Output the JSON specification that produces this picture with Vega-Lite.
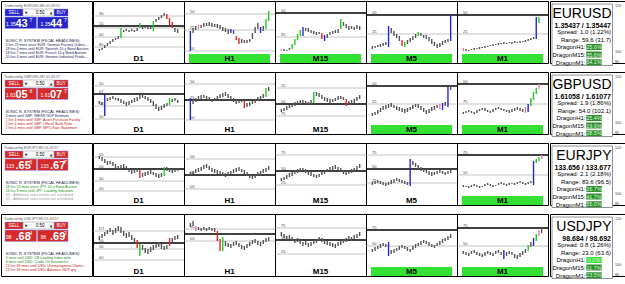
{
"$schema":"https://vega.github.io/schema/vega-lite/v6.json",
"padding":0,
"background":"white",
"spacing":-4.5,
"resolve":{"scale":{"fill":"independent","color":"independent","stroke":"independent","strokeWidth":"independent"}},
"config":{"view":{"stroke":"#000000","strokeWidth":1},"font":"Liberation Sans",
"axis":{"grid":false,"domain":false,"title":null,"labelFontSize":4,"labelColor":"#333333","tickSize":2,"tickColor":"#000000","tickWidth":0.6,"labelPadding":0.5,"labelAlign":"left","labelBaseline":"top","labelFlush":false,"labelOverlap":false,"labelOffset":1}},
"datasets":{"d":[
{"k":"L","s":"EURUSD","ttl":"Tradeconfig EURUSD,M5 01:49:57","dir":"up","bs":"1.35","bb":"43","bp":"7","as":"1.35","ab":"44","ap":"7","h1":"3 hrs 29 mins since EUR: German Factory Orders m/m","h2":"18 hrs 4 mins until EUR: Spanish 10-y Bond Auction","h3":"18 hrs 7 mins until EUR: French 10-y Bond Auction","h4":"20 hrs 4 mins until EUR: German Industrial Production m/m","c1":"M","c2":"M","c3":"M","c4":"M"},
{"k":"L","s":"GBPUSD","ttl":"Tradeconfig GBPUSD,M5 01:49:57","dir":"dn","bs":"1.61","bb":"05","bp":"8","as":"1.61","ab":"07","ap":"7","h1":"3 mins until GBP: NIESR GDP Estimate","h2":"1 hrs 4 mins until GBP: Asset Purchase Facility","h3":"1 hrs 4 mins until GBP: Official Bank Rate","h4":"1 hrs 4 mins until GBP: MPC Rate Statement","c1":"M","c2":"H","c3":"H","c4":"H"},
{"k":"L","s":"EURJPY","ttl":"Tradeconfig EURJPY,M5 01:49:57","dir":"dn","bs":"133","bb":".65","bp":"6","as":"133","ab":".67","ap":"7","h1":"18 hrs 12 mins since JPY: 10-y Bond Auction","h2":"14 hrs 3 mins until JPY: Leading Indicators","h3":"(0) - Additional news events not scheduled","h4":"(0) - Additional news events not scheduled","c1":"L","c2":"L","c3":"N","c4":"N"},
{"k":"L","s":"USDJPY","ttl":"Tradeconfig USDJPY,M5 01:49:57","dir":"dn","bs":"98","bb":".68","bp":"4","as":"98","ab":".69","ap":"2","h1":"3 mins until USD: CB Leading Index m/m","h2":"4 mins until USD: Crude Oil Inventories","h3":"23 hrs 39 mins until USD: Unemployment Claims","h4":"23 hrs 39 mins until USD: Advance GDP q/q","c1":"L","c2":"L","c3":"H","c4":"H"},
{"k":"I","s":"EURUSD","nm":"EURUSD","ba":"1.35437 / 1.35447","sp":"Spread: 1.0 (1.22%)","rg":"Range: 59.6 (31.7)","d1":"25.6%","d2":"35.6%","d3":"64.1%","e1":"n","e2":"n","e3":"n"},
{"k":"I","s":"GBPUSD","nm":"GBPUSD","ba":"1.61058 / 1.61077","sp":"Spread: 1.9 (1.86%)","rg":"Range: 54.0 (102.1)","d1":"25.4%","d2":"19.9%","d3":"28.5%","e1":"n","e2":"n","e3":"n"},
{"k":"I","s":"EURJPY","nm":"EURJPY","ba":"133.656 / 133.677","sp":"Spread: 2.1 (2.18%)","rg":"Range: 83.6 (96.5)","d1":"26.7%","d2":"41.7%","d3":"55.0%","e1":"n","e2":"n","e3":"n"},
{"k":"I","s":"USDJPY","nm":"USDJPY","ba":"98.684 / 98.692","sp":"Spread: 0.8 (1.26%)","rg":"Range: 23.0 (63.6)","d1":"0.0%","d2":"11.7%","d3":"23.5%","e1":"z","e2":"n","e3":"n"},
{"k":"g","s":"EURUSD","t":"D1","on":false},{"k":"g","s":"EURUSD","t":"H1","on":true},{"k":"g","s":"EURUSD","t":"M15","on":true},{"k":"g","s":"EURUSD","t":"M5","on":true},{"k":"g","s":"EURUSD","t":"M1","on":true},
{"k":"g","s":"GBPUSD","t":"D1","on":false},{"k":"g","s":"GBPUSD","t":"H1","on":false},{"k":"g","s":"GBPUSD","t":"M15","on":false},{"k":"g","s":"GBPUSD","t":"M5","on":true},{"k":"g","s":"GBPUSD","t":"M1","on":true},
{"k":"g","s":"EURJPY","t":"D1","on":false},{"k":"g","s":"EURJPY","t":"H1","on":false},{"k":"g","s":"EURJPY","t":"M15","on":false},{"k":"g","s":"EURJPY","t":"M5","on":false},{"k":"g","s":"EURJPY","t":"M1","on":true},
{"k":"g","s":"USDJPY","t":"D1","on":false},{"k":"g","s":"USDJPY","t":"H1","on":false},{"k":"g","s":"USDJPY","t":"M15","on":false},{"k":"g","s":"USDJPY","t":"M5","on":true},{"k":"g","s":"USDJPY","t":"M1","on":true},
{"k":"ln","s":"EURUSD","t":"D1","v":47,"lt":"g","lab":"30"},{"k":"ln","s":"EURUSD","t":"D1","v":37,"lt":"m","lab":"15"},{"k":"ln","s":"EURUSD","t":"D1","v":35,"lt":"g","lab":""},{"k":"ln","s":"EURUSD","t":"D1","v":26,"lt":"g","lab":"00"},{"k":"ln","s":"EURUSD","t":"D1","v":16,"lt":"g","lab":"85"},
{"k":"ln","s":"EURUSD","t":"H1","v":49,"lt":"g","lab":"50"},{"k":"ln","s":"EURUSD","t":"H1","v":33,"lt":"g","lab":"25"},{"k":"ln","s":"EURUSD","t":"H1","v":12,"lt":"g","lab":"00"},
{"k":"ln","s":"EURUSD","t":"M15","v":50,"lt":"m","lab":"50"},{"k":"ln","s":"EURUSD","t":"M15","v":26,"lt":"g","lab":"35"},
{"k":"ln","s":"EURUSD","t":"M5","v":48,"lt":"m","lab":"50"},{"k":"ln","s":"EURUSD","t":"M5","v":29,"lt":"g","lab":"25"},
{"k":"ln","s":"EURUSD","t":"M1","v":48,"lt":"m","lab":"50"},{"k":"ln","s":"EURUSD","t":"M1","v":29,"lt":"g","lab":"25"},
{"k":"ln","s":"GBPUSD","t":"D1","v":48,"lt":"g","lab":"50"},{"k":"ln","s":"GBPUSD","t":"D1","v":40,"lt":"m","lab":"07"},{"k":"ln","s":"GBPUSD","t":"D1","v":28,"lt":"g","lab":"00"},{"k":"ln","s":"GBPUSD","t":"D1","v":15,"lt":"g","lab":"50"},
{"k":"ln","s":"GBPUSD","t":"H1","v":50,"lt":"g","lab":"50"},{"k":"ln","s":"GBPUSD","t":"H1","v":34,"lt":"m","lab":"25"},{"k":"ln","s":"GBPUSD","t":"H1","v":14,"lt":"g","lab":"00"},
{"k":"ln","s":"GBPUSD","t":"M15","v":46,"lt":"g","lab":"25"},{"k":"ln","s":"GBPUSD","t":"M15","v":30,"lt":"m","lab":"00"},{"k":"ln","s":"GBPUSD","t":"M15","v":18,"lt":"g","lab":"75"},
{"k":"ln","s":"GBPUSD","t":"M5","v":48,"lt":"m","lab":"50"},{"k":"ln","s":"GBPUSD","t":"M5","v":30,"lt":"g","lab":"25"},
{"k":"ln","s":"GBPUSD","t":"M1","v":50,"lt":"m","lab":"00"},{"k":"ln","s":"GBPUSD","t":"M1","v":30,"lt":"g","lab":"75"},
{"k":"ln","s":"EURJPY","t":"D1","v":48,"lt":"g","lab":"50"},{"k":"ln","s":"EURJPY","t":"D1","v":36,"lt":"m","lab":"00"},{"k":"ln","s":"EURJPY","t":"D1","v":24,"lt":"g","lab":"50"},{"k":"ln","s":"EURJPY","t":"D1","v":14,"lt":"g","lab":"00"},
{"k":"ln","s":"EURJPY","t":"H1","v":46,"lt":"g","lab":"00"},{"k":"ln","s":"EURJPY","t":"H1","v":30,"lt":"m","lab":"50"},{"k":"ln","s":"EURJPY","t":"H1","v":16,"lt":"g","lab":"00"},
{"k":"ln","s":"EURJPY","t":"M15","v":50,"lt":"g","lab":"75"},{"k":"ln","s":"EURJPY","t":"M15","v":34,"lt":"m","lab":"50"},{"k":"ln","s":"EURJPY","t":"M15","v":20,"lt":"g","lab":"25"},
{"k":"ln","s":"EURJPY","t":"M5","v":50,"lt":"g","lab":"75"},{"k":"ln","s":"EURJPY","t":"M5","v":36,"lt":"m","lab":"50"},{"k":"ln","s":"EURJPY","t":"M5","v":22,"lt":"g","lab":"25"},
{"k":"ln","s":"EURJPY","t":"M1","v":50,"lt":"m","lab":"75"},{"k":"ln","s":"EURJPY","t":"M1","v":30,"lt":"g","lab":"50"},
{"k":"ln","s":"USDJPY","t":"D1","v":45,"lt":"g","lab":"DT"},{"k":"ln","s":"USDJPY","t":"D1","v":33,"lt":"m","lab":"00"},{"k":"ln","s":"USDJPY","t":"D1","v":27,"lt":"g","lab":"50"},{"k":"ln","s":"USDJPY","t":"D1","v":16,"lt":"g","lab":"00"},
{"k":"ln","s":"USDJPY","t":"H1","v":47,"lt":"g","lab":"50"},{"k":"ln","s":"USDJPY","t":"H1","v":42,"lt":"m","lab":""},{"k":"ln","s":"USDJPY","t":"H1","v":35,"lt":"g","lab":"00"},
{"k":"ln","s":"USDJPY","t":"M15","v":48,"lt":"g","lab":"75"},{"k":"ln","s":"USDJPY","t":"M15","v":36,"lt":"m","lab":"50"},{"k":"ln","s":"USDJPY","t":"M15","v":22,"lt":"g","lab":"25"},
{"k":"ln","s":"USDJPY","t":"M5","v":46,"lt":"m","lab":"75"},{"k":"ln","s":"USDJPY","t":"M5","v":30,"lt":"g","lab":"50"},
{"k":"ln","s":"USDJPY","t":"M1","v":48,"lt":"m","lab":"75"},{"k":"ln","s":"USDJPY","t":"M1","v":30,"lt":"g","lab":"50"},
{"k":"c","s":"EURUSD","t":"D1","i":0,"o":12,"c":14,"q":"n"},{"k":"c","s":"EURUSD","t":"D1","i":1,"o":13,"c":15,"q":"n"},{"k":"c","s":"EURUSD","t":"D1","i":2,"o":15,"c":18,"q":"n"},{"k":"c","s":"EURUSD","t":"D1","i":3,"o":17,"c":20,"q":"n"},{"k":"c","s":"EURUSD","t":"D1","i":4,"o":19,"c":22,"q":"n"},{"k":"c","s":"EURUSD","t":"D1","i":5,"o":21,"c":24,"q":"n"},{"k":"c","s":"EURUSD","t":"D1","i":6,"o":23,"c":25,"q":"n"},{"k":"c","s":"EURUSD","t":"D1","i":7,"o":24,"c":27,"q":"n"},{"k":"c","s":"EURUSD","t":"D1","i":8,"o":25,"c":35,"q":"g"},{"k":"c","s":"EURUSD","t":"D1","i":9,"o":31,"c":33,"q":"n"},{"k":"c","s":"EURUSD","t":"D1","i":10,"o":32,"c":34,"q":"n"},{"k":"c","s":"EURUSD","t":"D1","i":11,"o":31,"c":33,"q":"n"},{"k":"c","s":"EURUSD","t":"D1","i":12,"o":32,"c":34,"q":"n"},{"k":"c","s":"EURUSD","t":"D1","i":13,"o":31,"c":33,"q":"n"},{"k":"c","s":"EURUSD","t":"D1","i":14,"o":32,"c":35,"q":"n"},{"k":"c","s":"EURUSD","t":"D1","i":15,"o":35,"c":40,"q":"g"},{"k":"c","s":"EURUSD","t":"D1","i":16,"o":34,"c":37,"q":"n"},{"k":"c","s":"EURUSD","t":"D1","i":17,"o":35,"c":38,"q":"n"},{"k":"c","s":"EURUSD","t":"D1","i":18,"o":34,"c":37,"q":"n"},{"k":"c","s":"EURUSD","t":"D1","i":19,"o":34,"c":38,"q":"n"},{"k":"c","s":"EURUSD","t":"D1","i":20,"o":32,"c":42,"q":"g"},{"k":"c","s":"EURUSD","t":"D1","i":21,"o":41,"c":44,"q":"n"},{"k":"c","s":"EURUSD","t":"D1","i":22,"o":43,"c":46,"q":"n"},{"k":"c","s":"EURUSD","t":"D1","i":23,"o":45,"c":48,"q":"n"},{"k":"c","s":"EURUSD","t":"D1","i":24,"o":47,"c":50,"q":"n"},{"k":"c","s":"EURUSD","t":"D1","i":25,"o":49,"c":44,"q":"r"},{"k":"c","s":"EURUSD","t":"D1","i":26,"o":45,"c":38,"q":"r"},{"k":"c","s":"EURUSD","t":"D1","i":27,"o":41,"c":35,"q":"r"},{"k":"c","s":"EURUSD","t":"D1","i":28,"o":31,"c":35,"q":"n"},{"k":"c","s":"EURUSD","t":"D1","i":29,"o":30,"c":34,"q":"n"},
{"k":"c","s":"EURUSD","t":"H1","i":0,"o":12,"c":32,"q":"b"},{"k":"c","s":"EURUSD","t":"H1","i":1,"o":30,"c":35,"q":"n"},{"k":"c","s":"EURUSD","t":"H1","i":2,"o":33,"c":37,"q":"n"},{"k":"c","s":"EURUSD","t":"H1","i":3,"o":34,"c":38,"q":"p"},{"k":"c","s":"EURUSD","t":"H1","i":4,"o":35,"c":38,"q":"n"},{"k":"c","s":"EURUSD","t":"H1","i":5,"o":36,"c":40,"q":"n"},{"k":"c","s":"EURUSD","t":"H1","i":6,"o":37,"c":40,"q":"n"},{"k":"c","s":"EURUSD","t":"H1","i":7,"o":37,"c":41,"q":"n"},{"k":"c","s":"EURUSD","t":"H1","i":8,"o":36,"c":40,"q":"n"},{"k":"c","s":"EURUSD","t":"H1","i":9,"o":36,"c":39,"q":"n"},{"k":"c","s":"EURUSD","t":"H1","i":10,"o":35,"c":39,"q":"n"},{"k":"c","s":"EURUSD","t":"H1","i":11,"o":34,"c":38,"q":"n"},{"k":"c","s":"EURUSD","t":"H1","i":12,"o":32,"c":36,"q":"n"},{"k":"c","s":"EURUSD","t":"H1","i":13,"o":31,"c":35,"q":"n"},{"k":"c","s":"EURUSD","t":"H1","i":14,"o":29,"c":34,"q":"n"},{"k":"c","s":"EURUSD","t":"H1","i":15,"o":30,"c":34,"q":"b"},{"k":"c","s":"EURUSD","t":"H1","i":16,"o":29,"c":33,"q":"n"},{"k":"c","s":"EURUSD","t":"H1","i":17,"o":27,"c":23,"q":"r"},{"k":"c","s":"EURUSD","t":"H1","i":18,"o":25,"c":19,"q":"r"},{"k":"c","s":"EURUSD","t":"H1","i":19,"o":20,"c":24,"q":"n"},{"k":"c","s":"EURUSD","t":"H1","i":20,"o":20,"c":23,"q":"n"},{"k":"c","s":"EURUSD","t":"H1","i":21,"o":20,"c":23,"q":"n"},{"k":"c","s":"EURUSD","t":"H1","i":22,"o":21,"c":24,"q":"n"},{"k":"c","s":"EURUSD","t":"H1","i":23,"o":24,"c":30,"q":"n"},{"k":"c","s":"EURUSD","t":"H1","i":24,"o":30,"c":36,"q":"n"},{"k":"c","s":"EURUSD","t":"H1","i":25,"o":34,"c":40,"q":"n"},{"k":"c","s":"EURUSD","t":"H1","i":26,"o":30,"c":36,"q":"b"},{"k":"c","s":"EURUSD","t":"H1","i":27,"o":32,"c":37,"q":"n"},{"k":"c","s":"EURUSD","t":"H1","i":28,"o":34,"c":44,"q":"g"},{"k":"c","s":"EURUSD","t":"H1","i":29,"o":42,"c":52,"q":"g"},
{"k":"c","s":"EURUSD","t":"M15","i":0,"o":12,"c":14,"q":"p"},{"k":"c","s":"EURUSD","t":"M15","i":1,"o":12,"c":14,"q":"n"},{"k":"c","s":"EURUSD","t":"M15","i":2,"o":12,"c":13,"q":"n"},{"k":"c","s":"EURUSD","t":"M15","i":3,"o":13,"c":15,"q":"n"},{"k":"c","s":"EURUSD","t":"M15","i":4,"o":14,"c":19,"q":"g"},{"k":"c","s":"EURUSD","t":"M15","i":5,"o":18,"c":24,"q":"g"},{"k":"c","s":"EURUSD","t":"M15","i":6,"o":23,"c":29,"q":"g"},{"k":"c","s":"EURUSD","t":"M15","i":7,"o":27,"c":33,"q":"g"},{"k":"c","s":"EURUSD","t":"M15","i":8,"o":27,"c":36,"q":"b"},{"k":"c","s":"EURUSD","t":"M15","i":9,"o":32,"c":35,"q":"n"},{"k":"c","s":"EURUSD","t":"M15","i":10,"o":31,"c":35,"q":"n"},{"k":"c","s":"EURUSD","t":"M15","i":11,"o":30,"c":33,"q":"n"},{"k":"c","s":"EURUSD","t":"M15","i":12,"o":29,"c":32,"q":"n"},{"k":"c","s":"EURUSD","t":"M15","i":13,"o":28,"c":31,"q":"n"},{"k":"c","s":"EURUSD","t":"M15","i":14,"o":29,"c":31,"q":"n"},{"k":"c","s":"EURUSD","t":"M15","i":15,"o":30,"c":24,"q":"r"},{"k":"c","s":"EURUSD","t":"M15","i":16,"o":22,"c":28,"q":"b"},{"k":"c","s":"EURUSD","t":"M15","i":17,"o":25,"c":29,"q":"n"},{"k":"c","s":"EURUSD","t":"M15","i":18,"o":28,"c":31,"q":"n"},{"k":"c","s":"EURUSD","t":"M15","i":19,"o":29,"c":32,"q":"n"},{"k":"c","s":"EURUSD","t":"M15","i":20,"o":30,"c":33,"q":"n"},{"k":"c","s":"EURUSD","t":"M15","i":21,"o":30,"c":34,"q":"n"},{"k":"c","s":"EURUSD","t":"M15","i":22,"o":34,"c":44,"q":"g"},{"k":"c","s":"EURUSD","t":"M15","i":23,"o":37,"c":41,"q":"n"},{"k":"c","s":"EURUSD","t":"M15","i":24,"o":35,"c":39,"q":"n"},{"k":"c","s":"EURUSD","t":"M15","i":25,"o":33,"c":37,"q":"n"},{"k":"c","s":"EURUSD","t":"M15","i":26,"o":34,"c":37,"q":"n"},{"k":"c","s":"EURUSD","t":"M15","i":27,"o":33,"c":36,"q":"n"},{"k":"c","s":"EURUSD","t":"M15","i":28,"o":34,"c":38,"q":"n"},{"k":"c","s":"EURUSD","t":"M15","i":29,"o":33,"c":37,"q":"n"},
{"k":"c","s":"EURUSD","t":"M5","i":0,"o":14,"c":17,"q":"n"},{"k":"c","s":"EURUSD","t":"M5","i":1,"o":15,"c":17,"q":"n"},{"k":"c","s":"EURUSD","t":"M5","i":2,"o":16,"c":18,"q":"n"},{"k":"c","s":"EURUSD","t":"M5","i":3,"o":16,"c":19,"q":"n"},{"k":"c","s":"EURUSD","t":"M5","i":4,"o":17,"c":20,"q":"n"},{"k":"c","s":"EURUSD","t":"M5","i":5,"o":18,"c":21,"q":"n"},{"k":"c","s":"EURUSD","t":"M5","i":6,"o":16,"c":37,"q":"b"},{"k":"c","s":"EURUSD","t":"M5","i":7,"o":30,"c":35,"q":"n"},{"k":"c","s":"EURUSD","t":"M5","i":8,"o":27,"c":32,"q":"n"},{"k":"c","s":"EURUSD","t":"M5","i":9,"o":25,"c":29,"q":"n"},{"k":"c","s":"EURUSD","t":"M5","i":10,"o":22,"c":27,"q":"n"},{"k":"c","s":"EURUSD","t":"M5","i":11,"o":23,"c":17,"q":"r"},{"k":"c","s":"EURUSD","t":"M5","i":12,"o":16,"c":21,"q":"g"},{"k":"c","s":"EURUSD","t":"M5","i":13,"o":19,"c":23,"q":"n"},{"k":"c","s":"EURUSD","t":"M5","i":14,"o":21,"c":25,"q":"n"},{"k":"c","s":"EURUSD","t":"M5","i":15,"o":23,"c":27,"q":"n"},{"k":"c","s":"EURUSD","t":"M5","i":16,"o":25,"c":29,"q":"n"},{"k":"c","s":"EURUSD","t":"M5","i":17,"o":27,"c":31,"q":"g"},{"k":"c","s":"EURUSD","t":"M5","i":18,"o":27,"c":30,"q":"n"},{"k":"c","s":"EURUSD","t":"M5","i":19,"o":25,"c":28,"q":"n"},{"k":"c","s":"EURUSD","t":"M5","i":20,"o":24,"c":28,"q":"n"},{"k":"c","s":"EURUSD","t":"M5","i":21,"o":22,"c":26,"q":"n"},{"k":"c","s":"EURUSD","t":"M5","i":22,"o":19,"c":24,"q":"n"},{"k":"c","s":"EURUSD","t":"M5","i":23,"o":17,"c":21,"q":"n"},{"k":"c","s":"EURUSD","t":"M5","i":24,"o":15,"c":19,"q":"n"},{"k":"c","s":"EURUSD","t":"M5","i":25,"o":16,"c":20,"q":"n"},{"k":"c","s":"EURUSD","t":"M5","i":26,"o":18,"c":22,"q":"n"},{"k":"c","s":"EURUSD","t":"M5","i":27,"o":20,"c":23,"q":"n"},{"k":"c","s":"EURUSD","t":"M5","i":28,"o":21,"c":24,"q":"n"},{"k":"c","s":"EURUSD","t":"M5","i":29,"o":22,"c":49,"q":"b"},
{"k":"c","s":"EURUSD","t":"M1","i":0,"o":12,"c":15,"q":"p"},{"k":"c","s":"EURUSD","t":"M1","i":1,"o":12,"c":14,"q":"n"},{"k":"c","s":"EURUSD","t":"M1","i":2,"o":12,"c":13,"q":"n"},{"k":"c","s":"EURUSD","t":"M1","i":3,"o":13,"c":14,"q":"n"},{"k":"c","s":"EURUSD","t":"M1","i":4,"o":13,"c":15,"q":"n"},{"k":"c","s":"EURUSD","t":"M1","i":5,"o":14,"c":15,"q":"n"},{"k":"c","s":"EURUSD","t":"M1","i":6,"o":14,"c":16,"q":"n"},{"k":"c","s":"EURUSD","t":"M1","i":7,"o":15,"c":16,"q":"n"},{"k":"c","s":"EURUSD","t":"M1","i":8,"o":15,"c":17,"q":"n"},{"k":"c","s":"EURUSD","t":"M1","i":9,"o":16,"c":17,"q":"n"},{"k":"c","s":"EURUSD","t":"M1","i":10,"o":17,"c":18,"q":"n"},{"k":"c","s":"EURUSD","t":"M1","i":11,"o":17,"c":19,"q":"n"},{"k":"c","s":"EURUSD","t":"M1","i":12,"o":18,"c":19,"q":"n"},{"k":"c","s":"EURUSD","t":"M1","i":13,"o":18,"c":20,"q":"n"},{"k":"c","s":"EURUSD","t":"M1","i":14,"o":19,"c":20,"q":"n"},{"k":"c","s":"EURUSD","t":"M1","i":15,"o":19,"c":21,"q":"n"},{"k":"c","s":"EURUSD","t":"M1","i":16,"o":19,"c":20,"q":"n"},{"k":"c","s":"EURUSD","t":"M1","i":17,"o":20,"c":21,"q":"n"},{"k":"c","s":"EURUSD","t":"M1","i":18,"o":19,"c":21,"q":"n"},{"k":"c","s":"EURUSD","t":"M1","i":19,"o":20,"c":22,"q":"n"},{"k":"c","s":"EURUSD","t":"M1","i":20,"o":20,"c":21,"q":"n"},{"k":"c","s":"EURUSD","t":"M1","i":21,"o":20,"c":22,"q":"n"},{"k":"c","s":"EURUSD","t":"M1","i":22,"o":21,"c":22,"q":"n"},{"k":"c","s":"EURUSD","t":"M1","i":23,"o":21,"c":23,"q":"n"},{"k":"c","s":"EURUSD","t":"M1","i":24,"o":22,"c":24,"q":"n"},{"k":"c","s":"EURUSD","t":"M1","i":25,"o":23,"c":25,"q":"n"},{"k":"c","s":"EURUSD","t":"M1","i":26,"o":24,"c":26,"q":"n"},{"k":"c","s":"EURUSD","t":"M1","i":27,"o":24,"c":46,"q":"b"},{"k":"c","s":"EURUSD","t":"M1","i":28,"o":40,"c":46,"q":"g"},
{"k":"c","s":"GBPUSD","t":"D1","i":0,"o":30,"c":33,"q":"n"},{"k":"c","s":"GBPUSD","t":"D1","i":1,"o":29,"c":32,"q":"n"},{"k":"c","s":"GBPUSD","t":"D1","i":2,"o":18,"c":40,"q":"b"},{"k":"c","s":"GBPUSD","t":"D1","i":3,"o":33,"c":36,"q":"n"},{"k":"c","s":"GBPUSD","t":"D1","i":4,"o":34,"c":37,"q":"n"},{"k":"c","s":"GBPUSD","t":"D1","i":5,"o":35,"c":38,"q":"n"},{"k":"c","s":"GBPUSD","t":"D1","i":6,"o":34,"c":36,"q":"n"},{"k":"c","s":"GBPUSD","t":"D1","i":7,"o":33,"c":36,"q":"n"},{"k":"c","s":"GBPUSD","t":"D1","i":8,"o":31,"c":35,"q":"n"},{"k":"c","s":"GBPUSD","t":"D1","i":9,"o":30,"c":33,"q":"n"},{"k":"c","s":"GBPUSD","t":"D1","i":10,"o":28,"c":32,"q":"n"},{"k":"c","s":"GBPUSD","t":"D1","i":11,"o":29,"c":33,"q":"n"},{"k":"c","s":"GBPUSD","t":"D1","i":12,"o":31,"c":34,"q":"n"},{"k":"c","s":"GBPUSD","t":"D1","i":13,"o":32,"c":36,"q":"n"},{"k":"c","s":"GBPUSD","t":"D1","i":14,"o":33,"c":37,"q":"n"},{"k":"c","s":"GBPUSD","t":"D1","i":15,"o":35,"c":39,"q":"n"},{"k":"c","s":"GBPUSD","t":"D1","i":16,"o":36,"c":40,"q":"n"},{"k":"c","s":"GBPUSD","t":"D1","i":17,"o":35,"c":38,"q":"n"},{"k":"c","s":"GBPUSD","t":"D1","i":18,"o":33,"c":37,"q":"n"},{"k":"c","s":"GBPUSD","t":"D1","i":19,"o":31,"c":35,"q":"n"},{"k":"c","s":"GBPUSD","t":"D1","i":20,"o":28,"c":33,"q":"n"},{"k":"c","s":"GBPUSD","t":"D1","i":21,"o":25,"c":30,"q":"n"},{"k":"c","s":"GBPUSD","t":"D1","i":22,"o":23,"c":27,"q":"n"},{"k":"c","s":"GBPUSD","t":"D1","i":23,"o":24,"c":28,"q":"n"},{"k":"c","s":"GBPUSD","t":"D1","i":24,"o":26,"c":30,"q":"n"},{"k":"c","s":"GBPUSD","t":"D1","i":25,"o":28,"c":31,"q":"n"},{"k":"c","s":"GBPUSD","t":"D1","i":26,"o":29,"c":36,"q":"g"},{"k":"c","s":"GBPUSD","t":"D1","i":27,"o":32,"c":35,"q":"n"},{"k":"c","s":"GBPUSD","t":"D1","i":28,"o":33,"c":36,"q":"n"},{"k":"c","s":"GBPUSD","t":"D1","i":29,"o":31,"c":34,"q":"n"},
{"k":"c","s":"GBPUSD","t":"H1","i":0,"o":14,"c":36,"q":"b"},{"k":"c","s":"GBPUSD","t":"H1","i":1,"o":30,"c":34,"q":"n"},{"k":"c","s":"GBPUSD","t":"H1","i":2,"o":32,"c":36,"q":"n"},{"k":"c","s":"GBPUSD","t":"H1","i":3,"o":34,"c":38,"q":"n"},{"k":"c","s":"GBPUSD","t":"H1","i":4,"o":35,"c":39,"q":"n"},{"k":"c","s":"GBPUSD","t":"H1","i":5,"o":36,"c":39,"q":"n"},{"k":"c","s":"GBPUSD","t":"H1","i":6,"o":34,"c":38,"q":"n"},{"k":"c","s":"GBPUSD","t":"H1","i":7,"o":33,"c":37,"q":"n"},{"k":"c","s":"GBPUSD","t":"H1","i":8,"o":32,"c":35,"q":"n"},{"k":"c","s":"GBPUSD","t":"H1","i":9,"o":33,"c":36,"q":"n"},{"k":"c","s":"GBPUSD","t":"H1","i":10,"o":35,"c":38,"q":"n"},{"k":"c","s":"GBPUSD","t":"H1","i":11,"o":36,"c":40,"q":"n"},{"k":"c","s":"GBPUSD","t":"H1","i":12,"o":37,"c":41,"q":"n"},{"k":"c","s":"GBPUSD","t":"H1","i":13,"o":38,"c":42,"q":"n"},{"k":"c","s":"GBPUSD","t":"H1","i":14,"o":36,"c":40,"q":"n"},{"k":"c","s":"GBPUSD","t":"H1","i":15,"o":34,"c":38,"q":"n"},{"k":"c","s":"GBPUSD","t":"H1","i":16,"o":32,"c":36,"q":"n"},{"k":"c","s":"GBPUSD","t":"H1","i":17,"o":30,"c":34,"q":"n"},{"k":"c","s":"GBPUSD","t":"H1","i":18,"o":31,"c":35,"q":"n"},{"k":"c","s":"GBPUSD","t":"H1","i":19,"o":32,"c":35,"q":"n"},{"k":"c","s":"GBPUSD","t":"H1","i":20,"o":33,"c":26,"q":"r"},{"k":"c","s":"GBPUSD","t":"H1","i":21,"o":27,"c":31,"q":"n"},{"k":"c","s":"GBPUSD","t":"H1","i":22,"o":28,"c":32,"q":"n"},{"k":"c","s":"GBPUSD","t":"H1","i":23,"o":30,"c":33,"q":"n"},{"k":"c","s":"GBPUSD","t":"H1","i":24,"o":31,"c":35,"q":"n"},{"k":"c","s":"GBPUSD","t":"H1","i":25,"o":33,"c":37,"q":"n"},{"k":"c","s":"GBPUSD","t":"H1","i":26,"o":35,"c":38,"q":"n"},{"k":"c","s":"GBPUSD","t":"H1","i":27,"o":36,"c":40,"q":"n"},{"k":"c","s":"GBPUSD","t":"H1","i":28,"o":37,"c":46,"q":"g"},{"k":"c","s":"GBPUSD","t":"H1","i":29,"o":43,"c":47,"q":"n"},
{"k":"c","s":"GBPUSD","t":"M15","i":0,"o":22,"c":25,"q":"n"},{"k":"c","s":"GBPUSD","t":"M15","i":1,"o":23,"c":26,"q":"n"},{"k":"c","s":"GBPUSD","t":"M15","i":2,"o":24,"c":28,"q":"n"},{"k":"c","s":"GBPUSD","t":"M15","i":3,"o":26,"c":29,"q":"n"},{"k":"c","s":"GBPUSD","t":"M15","i":4,"o":27,"c":31,"q":"n"},{"k":"c","s":"GBPUSD","t":"M15","i":5,"o":28,"c":32,"q":"n"},{"k":"c","s":"GBPUSD","t":"M15","i":6,"o":29,"c":33,"q":"n"},{"k":"c","s":"GBPUSD","t":"M15","i":7,"o":30,"c":34,"q":"n"},{"k":"c","s":"GBPUSD","t":"M15","i":8,"o":31,"c":34,"q":"n"},{"k":"c","s":"GBPUSD","t":"M15","i":9,"o":30,"c":33,"q":"n"},{"k":"c","s":"GBPUSD","t":"M15","i":10,"o":29,"c":32,"q":"n"},{"k":"c","s":"GBPUSD","t":"M15","i":11,"o":30,"c":34,"q":"n"},{"k":"c","s":"GBPUSD","t":"M15","i":12,"o":31,"c":42,"q":"g"},{"k":"c","s":"GBPUSD","t":"M15","i":13,"o":38,"c":42,"q":"n"},{"k":"c","s":"GBPUSD","t":"M15","i":14,"o":37,"c":41,"q":"n"},{"k":"c","s":"GBPUSD","t":"M15","i":15,"o":35,"c":39,"q":"n"},{"k":"c","s":"GBPUSD","t":"M15","i":16,"o":33,"c":37,"q":"n"},{"k":"c","s":"GBPUSD","t":"M15","i":17,"o":32,"c":36,"q":"n"},{"k":"c","s":"GBPUSD","t":"M15","i":18,"o":31,"c":35,"q":"n"},{"k":"c","s":"GBPUSD","t":"M15","i":19,"o":32,"c":35,"q":"n"},{"k":"c","s":"GBPUSD","t":"M15","i":20,"o":33,"c":36,"q":"n"},{"k":"c","s":"GBPUSD","t":"M15","i":21,"o":34,"c":38,"q":"n"},{"k":"c","s":"GBPUSD","t":"M15","i":22,"o":35,"c":38,"q":"n"},{"k":"c","s":"GBPUSD","t":"M15","i":23,"o":34,"c":37,"q":"n"},{"k":"c","s":"GBPUSD","t":"M15","i":24,"o":35,"c":28,"q":"r"},{"k":"c","s":"GBPUSD","t":"M15","i":25,"o":29,"c":33,"q":"n"},{"k":"c","s":"GBPUSD","t":"M15","i":26,"o":30,"c":34,"q":"n"},{"k":"c","s":"GBPUSD","t":"M15","i":27,"o":31,"c":35,"q":"n"},{"k":"c","s":"GBPUSD","t":"M15","i":28,"o":33,"c":37,"q":"n"},{"k":"c","s":"GBPUSD","t":"M15","i":29,"o":35,"c":39,"q":"n"},
{"k":"c","s":"GBPUSD","t":"M5","i":0,"o":18,"c":21,"q":"n"},{"k":"c","s":"GBPUSD","t":"M5","i":1,"o":19,"c":22,"q":"n"},{"k":"c","s":"GBPUSD","t":"M5","i":2,"o":20,"c":24,"q":"n"},{"k":"c","s":"GBPUSD","t":"M5","i":3,"o":22,"c":26,"q":"n"},{"k":"c","s":"GBPUSD","t":"M5","i":4,"o":24,"c":28,"q":"n"},{"k":"c","s":"GBPUSD","t":"M5","i":5,"o":25,"c":29,"q":"n"},{"k":"c","s":"GBPUSD","t":"M5","i":6,"o":26,"c":30,"q":"n"},{"k":"c","s":"GBPUSD","t":"M5","i":7,"o":27,"c":31,"q":"n"},{"k":"c","s":"GBPUSD","t":"M5","i":8,"o":26,"c":29,"q":"n"},{"k":"c","s":"GBPUSD","t":"M5","i":9,"o":24,"c":28,"q":"n"},{"k":"c","s":"GBPUSD","t":"M5","i":10,"o":23,"c":27,"q":"n"},{"k":"c","s":"GBPUSD","t":"M5","i":11,"o":22,"c":26,"q":"n"},{"k":"c","s":"GBPUSD","t":"M5","i":12,"o":21,"c":25,"q":"n"},{"k":"c","s":"GBPUSD","t":"M5","i":13,"o":22,"c":26,"q":"n"},{"k":"c","s":"GBPUSD","t":"M5","i":14,"o":24,"c":27,"q":"n"},{"k":"c","s":"GBPUSD","t":"M5","i":15,"o":25,"c":29,"q":"n"},{"k":"c","s":"GBPUSD","t":"M5","i":16,"o":27,"c":30,"q":"n"},{"k":"c","s":"GBPUSD","t":"M5","i":17,"o":26,"c":30,"q":"n"},{"k":"c","s":"GBPUSD","t":"M5","i":18,"o":24,"c":28,"q":"n"},{"k":"c","s":"GBPUSD","t":"M5","i":19,"o":22,"c":26,"q":"n"},{"k":"c","s":"GBPUSD","t":"M5","i":20,"o":20,"c":24,"q":"n"},{"k":"c","s":"GBPUSD","t":"M5","i":21,"o":21,"c":25,"q":"n"},{"k":"c","s":"GBPUSD","t":"M5","i":22,"o":23,"c":27,"q":"n"},{"k":"c","s":"GBPUSD","t":"M5","i":23,"o":24,"c":28,"q":"n"},{"k":"c","s":"GBPUSD","t":"M5","i":24,"o":26,"c":29,"q":"n"},{"k":"c","s":"GBPUSD","t":"M5","i":25,"o":25,"c":30,"q":"p"},{"k":"c","s":"GBPUSD","t":"M5","i":26,"o":24,"c":31,"q":"b"},{"k":"c","s":"GBPUSD","t":"M5","i":27,"o":28,"c":32,"q":"n"},{"k":"c","s":"GBPUSD","t":"M5","i":28,"o":27,"c":47,"q":"b"},{"k":"c","s":"GBPUSD","t":"M5","i":29,"o":44,"c":49,"q":"n"},
{"k":"c","s":"GBPUSD","t":"M1","i":0,"o":20,"c":22,"q":"n"},{"k":"c","s":"GBPUSD","t":"M1","i":1,"o":21,"c":23,"q":"n"},{"k":"c","s":"GBPUSD","t":"M1","i":2,"o":22,"c":24,"q":"n"},{"k":"c","s":"GBPUSD","t":"M1","i":3,"o":21,"c":23,"q":"n"},{"k":"c","s":"GBPUSD","t":"M1","i":4,"o":20,"c":22,"q":"n"},{"k":"c","s":"GBPUSD","t":"M1","i":5,"o":21,"c":24,"q":"n"},{"k":"c","s":"GBPUSD","t":"M1","i":6,"o":23,"c":25,"q":"n"},{"k":"c","s":"GBPUSD","t":"M1","i":7,"o":24,"c":26,"q":"n"},{"k":"c","s":"GBPUSD","t":"M1","i":8,"o":23,"c":26,"q":"n"},{"k":"c","s":"GBPUSD","t":"M1","i":9,"o":22,"c":24,"q":"n"},{"k":"c","s":"GBPUSD","t":"M1","i":10,"o":21,"c":23,"q":"n"},{"k":"c","s":"GBPUSD","t":"M1","i":11,"o":22,"c":25,"q":"n"},{"k":"c","s":"GBPUSD","t":"M1","i":12,"o":24,"c":26,"q":"n"},{"k":"c","s":"GBPUSD","t":"M1","i":13,"o":25,"c":27,"q":"n"},{"k":"c","s":"GBPUSD","t":"M1","i":14,"o":24,"c":26,"q":"n"},{"k":"c","s":"GBPUSD","t":"M1","i":15,"o":23,"c":25,"q":"n"},{"k":"c","s":"GBPUSD","t":"M1","i":16,"o":22,"c":24,"q":"n"},{"k":"c","s":"GBPUSD","t":"M1","i":17,"o":21,"c":24,"q":"n"},{"k":"c","s":"GBPUSD","t":"M1","i":18,"o":22,"c":25,"q":"n"},{"k":"c","s":"GBPUSD","t":"M1","i":19,"o":23,"c":26,"q":"n"},{"k":"c","s":"GBPUSD","t":"M1","i":20,"o":24,"c":27,"q":"n"},{"k":"c","s":"GBPUSD","t":"M1","i":21,"o":23,"c":26,"q":"n"},{"k":"c","s":"GBPUSD","t":"M1","i":22,"o":22,"c":25,"q":"n"},{"k":"c","s":"GBPUSD","t":"M1","i":23,"o":21,"c":27,"q":"p"},{"k":"c","s":"GBPUSD","t":"M1","i":24,"o":22,"c":30,"q":"b"},{"k":"c","s":"GBPUSD","t":"M1","i":25,"o":28,"c":36,"q":"g"},{"k":"c","s":"GBPUSD","t":"M1","i":26,"o":34,"c":42,"q":"g"},{"k":"c","s":"GBPUSD","t":"M1","i":27,"o":40,"c":46,"q":"g"},{"k":"c","s":"GBPUSD","t":"M1","i":28,"o":45,"c":50,"q":"p"},
{"k":"c","s":"EURJPY","t":"D1","i":0,"o":46,"c":49,"q":"n"},{"k":"c","s":"EURJPY","t":"D1","i":1,"o":44,"c":48,"q":"n"},{"k":"c","s":"EURJPY","t":"D1","i":2,"o":42,"c":46,"q":"n"},{"k":"c","s":"EURJPY","t":"D1","i":3,"o":40,"c":44,"q":"n"},{"k":"c","s":"EURJPY","t":"D1","i":4,"o":41,"c":44,"q":"n"},{"k":"c","s":"EURJPY","t":"D1","i":5,"o":39,"c":43,"q":"n"},{"k":"c","s":"EURJPY","t":"D1","i":6,"o":37,"c":41,"q":"n"},{"k":"c","s":"EURJPY","t":"D1","i":7,"o":35,"c":39,"q":"n"},{"k":"c","s":"EURJPY","t":"D1","i":8,"o":36,"c":40,"q":"n"},{"k":"c","s":"EURJPY","t":"D1","i":9,"o":37,"c":41,"q":"n"},{"k":"c","s":"EURJPY","t":"D1","i":10,"o":35,"c":39,"q":"n"},{"k":"c","s":"EURJPY","t":"D1","i":11,"o":33,"c":37,"q":"n"},{"k":"c","s":"EURJPY","t":"D1","i":12,"o":31,"c":35,"q":"n"},{"k":"c","s":"EURJPY","t":"D1","i":13,"o":32,"c":36,"q":"n"},{"k":"c","s":"EURJPY","t":"D1","i":14,"o":33,"c":37,"q":"n"},{"k":"c","s":"EURJPY","t":"D1","i":15,"o":35,"c":27,"q":"r"},{"k":"c","s":"EURJPY","t":"D1","i":16,"o":28,"c":32,"q":"n"},{"k":"c","s":"EURJPY","t":"D1","i":17,"o":29,"c":33,"q":"n"},{"k":"c","s":"EURJPY","t":"D1","i":18,"o":30,"c":34,"q":"n"},{"k":"c","s":"EURJPY","t":"D1","i":19,"o":31,"c":35,"q":"n"},{"k":"c","s":"EURJPY","t":"D1","i":20,"o":30,"c":33,"q":"n"},{"k":"c","s":"EURJPY","t":"D1","i":21,"o":28,"c":32,"q":"n"},{"k":"c","s":"EURJPY","t":"D1","i":22,"o":27,"c":31,"q":"n"},{"k":"c","s":"EURJPY","t":"D1","i":23,"o":28,"c":32,"q":"n"},{"k":"c","s":"EURJPY","t":"D1","i":24,"o":29,"c":38,"q":"g"},{"k":"c","s":"EURJPY","t":"D1","i":25,"o":34,"c":38,"q":"n"},{"k":"c","s":"EURJPY","t":"D1","i":26,"o":33,"c":37,"q":"n"},{"k":"c","s":"EURJPY","t":"D1","i":27,"o":32,"c":36,"q":"n"},{"k":"c","s":"EURJPY","t":"D1","i":28,"o":33,"c":36,"q":"n"},{"k":"c","s":"EURJPY","t":"D1","i":29,"o":34,"c":37,"q":"n"},
{"k":"c","s":"EURJPY","t":"H1","i":0,"o":30,"c":33,"q":"n"},{"k":"c","s":"EURJPY","t":"H1","i":1,"o":31,"c":34,"q":"n"},{"k":"c","s":"EURJPY","t":"H1","i":2,"o":32,"c":36,"q":"n"},{"k":"c","s":"EURJPY","t":"H1","i":3,"o":33,"c":37,"q":"n"},{"k":"c","s":"EURJPY","t":"H1","i":4,"o":34,"c":38,"q":"n"},{"k":"c","s":"EURJPY","t":"H1","i":5,"o":36,"c":40,"q":"n"},{"k":"c","s":"EURJPY","t":"H1","i":6,"o":37,"c":41,"q":"n"},{"k":"c","s":"EURJPY","t":"H1","i":7,"o":35,"c":39,"q":"n"},{"k":"c","s":"EURJPY","t":"H1","i":8,"o":33,"c":37,"q":"n"},{"k":"c","s":"EURJPY","t":"H1","i":9,"o":32,"c":36,"q":"n"},{"k":"c","s":"EURJPY","t":"H1","i":10,"o":31,"c":35,"q":"n"},{"k":"c","s":"EURJPY","t":"H1","i":11,"o":30,"c":34,"q":"n"},{"k":"c","s":"EURJPY","t":"H1","i":12,"o":29,"c":33,"q":"n"},{"k":"c","s":"EURJPY","t":"H1","i":13,"o":28,"c":32,"q":"n"},{"k":"c","s":"EURJPY","t":"H1","i":14,"o":29,"c":33,"q":"n"},{"k":"c","s":"EURJPY","t":"H1","i":15,"o":31,"c":34,"q":"n"},{"k":"c","s":"EURJPY","t":"H1","i":16,"o":32,"c":36,"q":"n"},{"k":"c","s":"EURJPY","t":"H1","i":17,"o":33,"c":37,"q":"n"},{"k":"c","s":"EURJPY","t":"H1","i":18,"o":34,"c":38,"q":"n"},{"k":"c","s":"EURJPY","t":"H1","i":19,"o":33,"c":36,"q":"n"},{"k":"c","s":"EURJPY","t":"H1","i":20,"o":31,"c":35,"q":"n"},{"k":"c","s":"EURJPY","t":"H1","i":21,"o":29,"c":33,"q":"n"},{"k":"c","s":"EURJPY","t":"H1","i":22,"o":27,"c":31,"q":"n"},{"k":"c","s":"EURJPY","t":"H1","i":23,"o":26,"c":30,"q":"n"},{"k":"c","s":"EURJPY","t":"H1","i":24,"o":27,"c":31,"q":"n"},{"k":"c","s":"EURJPY","t":"H1","i":25,"o":29,"c":33,"q":"n"},{"k":"c","s":"EURJPY","t":"H1","i":26,"o":30,"c":34,"q":"n"},{"k":"c","s":"EURJPY","t":"H1","i":27,"o":32,"c":36,"q":"n"},{"k":"c","s":"EURJPY","t":"H1","i":28,"o":33,"c":37,"q":"n"},{"k":"c","s":"EURJPY","t":"H1","i":29,"o":35,"c":39,"q":"n"},
{"k":"c","s":"EURJPY","t":"M15","i":0,"o":24,"c":27,"q":"n"},{"k":"c","s":"EURJPY","t":"M15","i":1,"o":25,"c":28,"q":"n"},{"k":"c","s":"EURJPY","t":"M15","i":2,"o":26,"c":30,"q":"n"},{"k":"c","s":"EURJPY","t":"M15","i":3,"o":28,"c":32,"q":"n"},{"k":"c","s":"EURJPY","t":"M15","i":4,"o":29,"c":33,"q":"n"},{"k":"c","s":"EURJPY","t":"M15","i":5,"o":31,"c":35,"q":"n"},{"k":"c","s":"EURJPY","t":"M15","i":6,"o":32,"c":36,"q":"n"},{"k":"c","s":"EURJPY","t":"M15","i":7,"o":33,"c":37,"q":"n"},{"k":"c","s":"EURJPY","t":"M15","i":8,"o":34,"c":37,"q":"n"},{"k":"c","s":"EURJPY","t":"M15","i":9,"o":32,"c":36,"q":"n"},{"k":"c","s":"EURJPY","t":"M15","i":10,"o":30,"c":34,"q":"n"},{"k":"c","s":"EURJPY","t":"M15","i":11,"o":29,"c":33,"q":"n"},{"k":"c","s":"EURJPY","t":"M15","i":12,"o":28,"c":31,"q":"n"},{"k":"c","s":"EURJPY","t":"M15","i":13,"o":27,"c":30,"q":"n"},{"k":"c","s":"EURJPY","t":"M15","i":14,"o":28,"c":31,"q":"n"},{"k":"c","s":"EURJPY","t":"M15","i":15,"o":30,"c":33,"q":"n"},{"k":"c","s":"EURJPY","t":"M15","i":16,"o":31,"c":35,"q":"n"},{"k":"c","s":"EURJPY","t":"M15","i":17,"o":33,"c":36,"q":"n"},{"k":"c","s":"EURJPY","t":"M15","i":18,"o":34,"c":38,"q":"n"},{"k":"c","s":"EURJPY","t":"M15","i":19,"o":35,"c":39,"q":"n"},{"k":"c","s":"EURJPY","t":"M15","i":20,"o":36,"c":40,"q":"n"},{"k":"c","s":"EURJPY","t":"M15","i":21,"o":35,"c":38,"q":"n"},{"k":"c","s":"EURJPY","t":"M15","i":22,"o":33,"c":37,"q":"n"},{"k":"c","s":"EURJPY","t":"M15","i":23,"o":31,"c":35,"q":"n"},{"k":"c","s":"EURJPY","t":"M15","i":24,"o":30,"c":34,"q":"n"},{"k":"c","s":"EURJPY","t":"M15","i":25,"o":31,"c":34,"q":"n"},{"k":"c","s":"EURJPY","t":"M15","i":26,"o":32,"c":36,"q":"n"},{"k":"c","s":"EURJPY","t":"M15","i":27,"o":34,"c":37,"q":"n"},{"k":"c","s":"EURJPY","t":"M15","i":28,"o":35,"c":39,"q":"n"},{"k":"c","s":"EURJPY","t":"M15","i":29,"o":37,"c":41,"q":"n"},
{"k":"c","s":"EURJPY","t":"M5","i":0,"o":20,"c":23,"q":"n"},{"k":"c","s":"EURJPY","t":"M5","i":1,"o":21,"c":24,"q":"n"},{"k":"c","s":"EURJPY","t":"M5","i":2,"o":22,"c":25,"q":"n"},{"k":"c","s":"EURJPY","t":"M5","i":3,"o":21,"c":24,"q":"n"},{"k":"c","s":"EURJPY","t":"M5","i":4,"o":20,"c":23,"q":"n"},{"k":"c","s":"EURJPY","t":"M5","i":5,"o":19,"c":22,"q":"n"},{"k":"c","s":"EURJPY","t":"M5","i":6,"o":20,"c":23,"q":"n"},{"k":"c","s":"EURJPY","t":"M5","i":7,"o":21,"c":25,"q":"n"},{"k":"c","s":"EURJPY","t":"M5","i":8,"o":22,"c":26,"q":"n"},{"k":"c","s":"EURJPY","t":"M5","i":9,"o":24,"c":27,"q":"n"},{"k":"c","s":"EURJPY","t":"M5","i":10,"o":23,"c":26,"q":"n"},{"k":"c","s":"EURJPY","t":"M5","i":11,"o":22,"c":25,"q":"n"},{"k":"c","s":"EURJPY","t":"M5","i":12,"o":21,"c":24,"q":"n"},{"k":"c","s":"EURJPY","t":"M5","i":13,"o":20,"c":23,"q":"n"},{"k":"c","s":"EURJPY","t":"M5","i":14,"o":19,"c":46,"q":"b"},{"k":"c","s":"EURJPY","t":"M5","i":15,"o":40,"c":44,"q":"n"},{"k":"c","s":"EURJPY","t":"M5","i":16,"o":38,"c":42,"q":"n"},{"k":"c","s":"EURJPY","t":"M5","i":17,"o":36,"c":40,"q":"n"},{"k":"c","s":"EURJPY","t":"M5","i":18,"o":34,"c":38,"q":"n"},{"k":"c","s":"EURJPY","t":"M5","i":19,"o":33,"c":36,"q":"n"},{"k":"c","s":"EURJPY","t":"M5","i":20,"o":32,"c":35,"q":"n"},{"k":"c","s":"EURJPY","t":"M5","i":21,"o":30,"c":34,"q":"n"},{"k":"c","s":"EURJPY","t":"M5","i":22,"o":29,"c":33,"q":"n"},{"k":"c","s":"EURJPY","t":"M5","i":23,"o":30,"c":33,"q":"n"},{"k":"c","s":"EURJPY","t":"M5","i":24,"o":31,"c":34,"q":"n"},{"k":"c","s":"EURJPY","t":"M5","i":25,"o":32,"c":35,"q":"n"},{"k":"c","s":"EURJPY","t":"M5","i":26,"o":31,"c":34,"q":"n"},{"k":"c","s":"EURJPY","t":"M5","i":27,"o":30,"c":33,"q":"n"},{"k":"c","s":"EURJPY","t":"M5","i":28,"o":31,"c":34,"q":"n"},{"k":"c","s":"EURJPY","t":"M5","i":29,"o":32,"c":35,"q":"n"},
{"k":"c","s":"EURJPY","t":"M1","i":0,"o":18,"c":20,"q":"n"},{"k":"c","s":"EURJPY","t":"M1","i":1,"o":18,"c":19,"q":"n"},{"k":"c","s":"EURJPY","t":"M1","i":2,"o":17,"c":19,"q":"n"},{"k":"c","s":"EURJPY","t":"M1","i":3,"o":18,"c":20,"q":"n"},{"k":"c","s":"EURJPY","t":"M1","i":4,"o":19,"c":21,"q":"n"},{"k":"c","s":"EURJPY","t":"M1","i":5,"o":18,"c":20,"q":"n"},{"k":"c","s":"EURJPY","t":"M1","i":6,"o":17,"c":19,"q":"n"},{"k":"c","s":"EURJPY","t":"M1","i":7,"o":18,"c":19,"q":"n"},{"k":"c","s":"EURJPY","t":"M1","i":8,"o":19,"c":21,"q":"n"},{"k":"c","s":"EURJPY","t":"M1","i":9,"o":20,"c":22,"q":"n"},{"k":"c","s":"EURJPY","t":"M1","i":10,"o":19,"c":21,"q":"n"},{"k":"c","s":"EURJPY","t":"M1","i":11,"o":18,"c":20,"q":"n"},{"k":"c","s":"EURJPY","t":"M1","i":12,"o":19,"c":20,"q":"n"},{"k":"c","s":"EURJPY","t":"M1","i":13,"o":20,"c":22,"q":"n"},{"k":"c","s":"EURJPY","t":"M1","i":14,"o":21,"c":23,"q":"n"},{"k":"c","s":"EURJPY","t":"M1","i":15,"o":20,"c":22,"q":"n"},{"k":"c","s":"EURJPY","t":"M1","i":16,"o":19,"c":21,"q":"n"},{"k":"c","s":"EURJPY","t":"M1","i":17,"o":20,"c":22,"q":"n"},{"k":"c","s":"EURJPY","t":"M1","i":18,"o":21,"c":22,"q":"n"},{"k":"c","s":"EURJPY","t":"M1","i":19,"o":20,"c":22,"q":"n"},{"k":"c","s":"EURJPY","t":"M1","i":20,"o":21,"c":23,"q":"n"},{"k":"c","s":"EURJPY","t":"M1","i":21,"o":22,"c":24,"q":"n"},{"k":"c","s":"EURJPY","t":"M1","i":22,"o":21,"c":23,"q":"n"},{"k":"c","s":"EURJPY","t":"M1","i":23,"o":20,"c":22,"q":"n"},{"k":"c","s":"EURJPY","t":"M1","i":24,"o":21,"c":23,"q":"n"},{"k":"c","s":"EURJPY","t":"M1","i":25,"o":22,"c":24,"q":"n"},{"k":"c","s":"EURJPY","t":"M1","i":26,"o":20,"c":44,"q":"b"},{"k":"c","s":"EURJPY","t":"M1","i":27,"o":42,"c":46,"q":"g"},{"k":"c","s":"EURJPY","t":"M1","i":28,"o":44,"c":48,"q":"g"},{"k":"c","s":"EURJPY","t":"M1","i":29,"o":46,"c":50,"q":"p"},
{"k":"c","s":"USDJPY","t":"D1","i":0,"o":36,"c":40,"q":"n"},{"k":"c","s":"USDJPY","t":"D1","i":1,"o":38,"c":42,"q":"n"},{"k":"c","s":"USDJPY","t":"D1","i":2,"o":40,"c":44,"q":"n"},{"k":"c","s":"USDJPY","t":"D1","i":3,"o":42,"c":46,"q":"n"},{"k":"c","s":"USDJPY","t":"D1","i":4,"o":44,"c":48,"q":"n"},{"k":"c","s":"USDJPY","t":"D1","i":5,"o":41,"c":46,"q":"n"},{"k":"c","s":"USDJPY","t":"D1","i":6,"o":43,"c":48,"q":"n"},{"k":"c","s":"USDJPY","t":"D1","i":7,"o":45,"c":50,"q":"n"},{"k":"c","s":"USDJPY","t":"D1","i":8,"o":43,"c":49,"q":"n"},{"k":"c","s":"USDJPY","t":"D1","i":9,"o":40,"c":45,"q":"n"},{"k":"c","s":"USDJPY","t":"D1","i":10,"o":38,"c":43,"q":"n"},{"k":"c","s":"USDJPY","t":"D1","i":11,"o":39,"c":44,"q":"n"},{"k":"c","s":"USDJPY","t":"D1","i":12,"o":36,"c":41,"q":"n"},{"k":"c","s":"USDJPY","t":"D1","i":13,"o":34,"c":38,"q":"n"},{"k":"c","s":"USDJPY","t":"D1","i":14,"o":36,"c":28,"q":"r"},{"k":"c","s":"USDJPY","t":"D1","i":15,"o":20,"c":32,"q":"g"},{"k":"c","s":"USDJPY","t":"D1","i":16,"o":26,"c":31,"q":"n"},{"k":"c","s":"USDJPY","t":"D1","i":17,"o":23,"c":28,"q":"n"},{"k":"c","s":"USDJPY","t":"D1","i":18,"o":22,"c":27,"q":"n"},{"k":"c","s":"USDJPY","t":"D1","i":19,"o":24,"c":29,"q":"n"},{"k":"c","s":"USDJPY","t":"D1","i":20,"o":26,"c":31,"q":"n"},{"k":"c","s":"USDJPY","t":"D1","i":21,"o":28,"c":32,"q":"n"},{"k":"c","s":"USDJPY","t":"D1","i":22,"o":29,"c":34,"q":"n"},{"k":"c","s":"USDJPY","t":"D1","i":23,"o":27,"c":32,"q":"n"},{"k":"c","s":"USDJPY","t":"D1","i":24,"o":26,"c":30,"q":"n"},{"k":"c","s":"USDJPY","t":"D1","i":25,"o":27,"c":31,"q":"n"},{"k":"c","s":"USDJPY","t":"D1","i":26,"o":38,"c":30,"q":"r"},{"k":"c","s":"USDJPY","t":"D1","i":27,"o":34,"c":38,"q":"n"},{"k":"c","s":"USDJPY","t":"D1","i":28,"o":36,"c":40,"q":"n"},{"k":"c","s":"USDJPY","t":"D1","i":29,"o":37,"c":41,"q":"n"},
{"k":"c","s":"USDJPY","t":"H1","i":0,"o":49,"c":53,"q":"n"},{"k":"c","s":"USDJPY","t":"H1","i":1,"o":50,"c":55,"q":"n"},{"k":"c","s":"USDJPY","t":"H1","i":2,"o":50,"c":45,"q":"p"},{"k":"c","s":"USDJPY","t":"H1","i":3,"o":46,"c":49,"q":"n"},{"k":"c","s":"USDJPY","t":"H1","i":4,"o":45,"c":48,"q":"n"},{"k":"c","s":"USDJPY","t":"H1","i":5,"o":46,"c":49,"q":"n"},{"k":"c","s":"USDJPY","t":"H1","i":6,"o":45,"c":48,"q":"n"},{"k":"c","s":"USDJPY","t":"H1","i":7,"o":46,"c":49,"q":"n"},{"k":"c","s":"USDJPY","t":"H1","i":8,"o":45,"c":48,"q":"n"},{"k":"c","s":"USDJPY","t":"H1","i":9,"o":44,"c":48,"q":"n"},{"k":"c","s":"USDJPY","t":"H1","i":10,"o":45,"c":35,"q":"r"},{"k":"c","s":"USDJPY","t":"H1","i":11,"o":37,"c":25,"q":"r"},{"k":"c","s":"USDJPY","t":"H1","i":12,"o":25,"c":39,"q":"g"},{"k":"c","s":"USDJPY","t":"H1","i":13,"o":30,"c":35,"q":"n"},{"k":"c","s":"USDJPY","t":"H1","i":14,"o":29,"c":33,"q":"n"},{"k":"c","s":"USDJPY","t":"H1","i":15,"o":28,"c":32,"q":"n"},{"k":"c","s":"USDJPY","t":"H1","i":16,"o":30,"c":34,"q":"n"},{"k":"c","s":"USDJPY","t":"H1","i":17,"o":31,"c":35,"q":"n"},{"k":"c","s":"USDJPY","t":"H1","i":18,"o":29,"c":33,"q":"n"},{"k":"c","s":"USDJPY","t":"H1","i":19,"o":27,"c":31,"q":"n"},{"k":"c","s":"USDJPY","t":"H1","i":20,"o":26,"c":30,"q":"n"},{"k":"c","s":"USDJPY","t":"H1","i":21,"o":28,"c":32,"q":"n"},{"k":"c","s":"USDJPY","t":"H1","i":22,"o":30,"c":34,"q":"n"},{"k":"c","s":"USDJPY","t":"H1","i":23,"o":32,"c":36,"q":"n"},{"k":"c","s":"USDJPY","t":"H1","i":24,"o":33,"c":37,"q":"n"},{"k":"c","s":"USDJPY","t":"H1","i":25,"o":31,"c":35,"q":"n"},{"k":"c","s":"USDJPY","t":"H1","i":26,"o":30,"c":34,"q":"n"},{"k":"c","s":"USDJPY","t":"H1","i":27,"o":32,"c":36,"q":"n"},{"k":"c","s":"USDJPY","t":"H1","i":28,"o":34,"c":38,"q":"n"},{"k":"c","s":"USDJPY","t":"H1","i":29,"o":35,"c":39,"q":"n"},
{"k":"c","s":"USDJPY","t":"M15","i":0,"o":40,"c":44,"q":"n"},{"k":"c","s":"USDJPY","t":"M15","i":1,"o":38,"c":42,"q":"n"},{"k":"c","s":"USDJPY","t":"M15","i":2,"o":36,"c":40,"q":"n"},{"k":"c","s":"USDJPY","t":"M15","i":3,"o":37,"c":41,"q":"n"},{"k":"c","s":"USDJPY","t":"M15","i":4,"o":35,"c":39,"q":"n"},{"k":"c","s":"USDJPY","t":"M15","i":5,"o":33,"c":37,"q":"n"},{"k":"c","s":"USDJPY","t":"M15","i":6,"o":34,"c":38,"q":"n"},{"k":"c","s":"USDJPY","t":"M15","i":7,"o":32,"c":36,"q":"n"},{"k":"c","s":"USDJPY","t":"M15","i":8,"o":30,"c":34,"q":"n"},{"k":"c","s":"USDJPY","t":"M15","i":9,"o":31,"c":35,"q":"n"},{"k":"c","s":"USDJPY","t":"M15","i":10,"o":29,"c":33,"q":"n"},{"k":"c","s":"USDJPY","t":"M15","i":11,"o":30,"c":34,"q":"n"},{"k":"c","s":"USDJPY","t":"M15","i":12,"o":32,"c":36,"q":"n"},{"k":"c","s":"USDJPY","t":"M15","i":13,"o":33,"c":37,"q":"n"},{"k":"c","s":"USDJPY","t":"M15","i":14,"o":35,"c":39,"q":"n"},{"k":"c","s":"USDJPY","t":"M15","i":15,"o":34,"c":38,"q":"n"},{"k":"c","s":"USDJPY","t":"M15","i":16,"o":32,"c":36,"q":"n"},{"k":"c","s":"USDJPY","t":"M15","i":17,"o":31,"c":35,"q":"n"},{"k":"c","s":"USDJPY","t":"M15","i":18,"o":30,"c":34,"q":"n"},{"k":"c","s":"USDJPY","t":"M15","i":19,"o":29,"c":33,"q":"n"},{"k":"c","s":"USDJPY","t":"M15","i":20,"o":28,"c":32,"q":"n"},{"k":"c","s":"USDJPY","t":"M15","i":21,"o":30,"c":34,"q":"n"},{"k":"c","s":"USDJPY","t":"M15","i":22,"o":31,"c":35,"q":"n"},{"k":"c","s":"USDJPY","t":"M15","i":23,"o":33,"c":36,"q":"n"},{"k":"c","s":"USDJPY","t":"M15","i":24,"o":34,"c":38,"q":"n"},{"k":"c","s":"USDJPY","t":"M15","i":25,"o":36,"c":40,"q":"n"},{"k":"c","s":"USDJPY","t":"M15","i":26,"o":35,"c":39,"q":"n"},{"k":"c","s":"USDJPY","t":"M15","i":27,"o":37,"c":41,"q":"n"},{"k":"c","s":"USDJPY","t":"M15","i":28,"o":38,"c":42,"q":"n"},{"k":"c","s":"USDJPY","t":"M15","i":29,"o":40,"c":44,"q":"n"},
{"k":"c","s":"USDJPY","t":"M5","i":0,"o":24,"c":27,"q":"n"},{"k":"c","s":"USDJPY","t":"M5","i":1,"o":25,"c":29,"q":"n"},{"k":"c","s":"USDJPY","t":"M5","i":2,"o":27,"c":30,"q":"n"},{"k":"c","s":"USDJPY","t":"M5","i":3,"o":28,"c":32,"q":"n"},{"k":"c","s":"USDJPY","t":"M5","i":4,"o":30,"c":33,"q":"n"},{"k":"c","s":"USDJPY","t":"M5","i":5,"o":29,"c":32,"q":"n"},{"k":"c","s":"USDJPY","t":"M5","i":6,"o":20,"c":34,"q":"b"},{"k":"c","s":"USDJPY","t":"M5","i":7,"o":22,"c":26,"q":"n"},{"k":"c","s":"USDJPY","t":"M5","i":8,"o":23,"c":27,"q":"n"},{"k":"c","s":"USDJPY","t":"M5","i":9,"o":25,"c":28,"q":"n"},{"k":"c","s":"USDJPY","t":"M5","i":10,"o":26,"c":30,"q":"n"},{"k":"c","s":"USDJPY","t":"M5","i":11,"o":28,"c":31,"q":"n"},{"k":"c","s":"USDJPY","t":"M5","i":12,"o":27,"c":30,"q":"n"},{"k":"c","s":"USDJPY","t":"M5","i":13,"o":25,"c":29,"q":"n"},{"k":"c","s":"USDJPY","t":"M5","i":14,"o":24,"c":27,"q":"n"},{"k":"c","s":"USDJPY","t":"M5","i":15,"o":26,"c":30,"q":"n"},{"k":"c","s":"USDJPY","t":"M5","i":16,"o":28,"c":32,"q":"n"},{"k":"c","s":"USDJPY","t":"M5","i":17,"o":30,"c":33,"q":"n"},{"k":"c","s":"USDJPY","t":"M5","i":18,"o":31,"c":35,"q":"n"},{"k":"c","s":"USDJPY","t":"M5","i":19,"o":33,"c":36,"q":"n"},{"k":"c","s":"USDJPY","t":"M5","i":20,"o":32,"c":35,"q":"n"},{"k":"c","s":"USDJPY","t":"M5","i":21,"o":30,"c":34,"q":"n"},{"k":"c","s":"USDJPY","t":"M5","i":22,"o":29,"c":32,"q":"n"},{"k":"c","s":"USDJPY","t":"M5","i":23,"o":28,"c":31,"q":"n"},{"k":"c","s":"USDJPY","t":"M5","i":24,"o":30,"c":33,"q":"n"},{"k":"c","s":"USDJPY","t":"M5","i":25,"o":31,"c":35,"q":"n"},{"k":"c","s":"USDJPY","t":"M5","i":26,"o":33,"c":37,"q":"n"},{"k":"c","s":"USDJPY","t":"M5","i":27,"o":35,"c":38,"q":"n"},{"k":"c","s":"USDJPY","t":"M5","i":28,"o":36,"c":40,"q":"n"},{"k":"c","s":"USDJPY","t":"M5","i":29,"o":38,"c":42,"q":"n"},
{"k":"c","s":"USDJPY","t":"M1","i":0,"o":22,"c":25,"q":"n"},{"k":"c","s":"USDJPY","t":"M1","i":1,"o":21,"c":24,"q":"n"},{"k":"c","s":"USDJPY","t":"M1","i":2,"o":20,"c":23,"q":"n"},{"k":"c","s":"USDJPY","t":"M1","i":3,"o":22,"c":25,"q":"n"},{"k":"c","s":"USDJPY","t":"M1","i":4,"o":23,"c":26,"q":"n"},{"k":"c","s":"USDJPY","t":"M1","i":5,"o":21,"c":24,"q":"n"},{"k":"c","s":"USDJPY","t":"M1","i":6,"o":20,"c":23,"q":"n"},{"k":"c","s":"USDJPY","t":"M1","i":7,"o":19,"c":22,"q":"n"},{"k":"c","s":"USDJPY","t":"M1","i":8,"o":20,"c":24,"q":"n"},{"k":"c","s":"USDJPY","t":"M1","i":9,"o":22,"c":25,"q":"n"},{"k":"c","s":"USDJPY","t":"M1","i":10,"o":21,"c":24,"q":"n"},{"k":"c","s":"USDJPY","t":"M1","i":11,"o":20,"c":23,"q":"n"},{"k":"c","s":"USDJPY","t":"M1","i":12,"o":22,"c":25,"q":"n"},{"k":"c","s":"USDJPY","t":"M1","i":13,"o":23,"c":26,"q":"n"},{"k":"c","s":"USDJPY","t":"M1","i":14,"o":21,"c":24,"q":"n"},{"k":"c","s":"USDJPY","t":"M1","i":15,"o":17,"c":26,"q":"b"},{"k":"c","s":"USDJPY","t":"M1","i":16,"o":20,"c":24,"q":"n"},{"k":"c","s":"USDJPY","t":"M1","i":17,"o":22,"c":25,"q":"n"},{"k":"c","s":"USDJPY","t":"M1","i":18,"o":21,"c":24,"q":"n"},{"k":"c","s":"USDJPY","t":"M1","i":19,"o":18,"c":22,"q":"n"},{"k":"c","s":"USDJPY","t":"M1","i":20,"o":17,"c":21,"q":"n"},{"k":"c","s":"USDJPY","t":"M1","i":21,"o":19,"c":23,"q":"n"},{"k":"c","s":"USDJPY","t":"M1","i":22,"o":21,"c":25,"q":"n"},{"k":"c","s":"USDJPY","t":"M1","i":23,"o":23,"c":27,"q":"n"},{"k":"c","s":"USDJPY","t":"M1","i":24,"o":25,"c":31,"q":"g"},{"k":"c","s":"USDJPY","t":"M1","i":25,"o":29,"c":34,"q":"n"},{"k":"c","s":"USDJPY","t":"M1","i":26,"o":30,"c":38,"q":"b"},{"k":"c","s":"USDJPY","t":"M1","i":27,"o":35,"c":42,"q":"g"},{"k":"c","s":"USDJPY","t":"M1","i":28,"o":40,"c":46,"q":"p"},{"k":"c","s":"USDJPY","t":"M1","i":29,"o":43,"c":48,"q":"n"}
]},
"data":{"name":"d"},
"hconcat":[
{"transform":[{"filter":"datum.k=='L'"}],
 "facet":{"row":{"field":"s","type":"nominal","sort":["EURUSD","GBPUSD","EURJPY","USDJPY"],"header":null}},
 "spacing":{"row":9},"bounds":"flush",
 "resolve":{"axis":{"x":"independent"}},
 "spec":{"width":91,"height":62,"layer":[
  {"mark":{"type":"text","align":"left","baseline":"middle","fontSize":3.6,"color":"#555555"},
   "encoding":{"x":{"datum":3,"type":"quantitative","scale":{"domain":[0,91],"nice":false,"zero":false},"axis":{"values":[2,22,42,61],"labelExpr":"['31 Oct 2013','31 Oct 16:00','31 Oct 20:00','1 Nov 00:00'][indexof([2,22,42,61],datum.value)]"}},"y":{"datum":5,"type":"quantitative","scale":{"domain":[0,62],"reverse":true,"nice":false,"zero":false},"axis":null},"text":{"field":"ttl"}}},
  {"mark":{"type":"rect","stroke":"#8888ff","strokeWidth":0.4},"encoding":{"x":{"datum":4,"type":"quantitative","axis":null},"x2":{"datum":22},"y":{"datum":8,"type":"quantitative","axis":null},"y2":{"datum":15},"fill":{"field":"dir","type":"nominal","scale":{"domain":["up","dn"],"range":["#2626c8","#d42a2a"]},"legend":null}}},
  {"mark":{"type":"rect","stroke":"#8888ff","strokeWidth":0.4},"encoding":{"x":{"datum":53,"type":"quantitative","axis":null},"x2":{"datum":67},"y":{"datum":8,"type":"quantitative","axis":null},"y2":{"datum":15},"fill":{"field":"dir","type":"nominal","legend":null}}},
  {"mark":{"type":"rect","fill":"#ffffff","stroke":"#888888","strokeWidth":0.5},"encoding":{"x":{"datum":22,"type":"quantitative","axis":null},"x2":{"datum":53},"y":{"datum":8,"type":"quantitative","axis":null},"y2":{"datum":15}}},
  {"mark":{"type":"text","fontSize":4.5,"color":"#ffffff","align":"center","baseline":"middle"},"encoding":{"x":{"datum":13,"type":"quantitative","axis":null},"y":{"datum":11.6,"type":"quantitative","axis":null},"text":{"value":"SELL"}}},
  {"mark":{"type":"text","fontSize":4.5,"color":"#ffffff","align":"center","baseline":"middle"},"encoding":{"x":{"datum":60,"type":"quantitative","axis":null},"y":{"datum":11.6,"type":"quantitative","axis":null},"text":{"value":"BUY"}}},
  {"mark":{"type":"text","fontSize":4.5,"color":"#000000","align":"center","baseline":"middle"},"encoding":{"x":{"datum":39,"type":"quantitative","axis":null},"y":{"datum":11.6,"type":"quantitative","axis":null},"text":{"value":"0.50"}}},
  {"mark":{"type":"text","fontSize":3.5,"color":"#333333","align":"center","baseline":"middle","font":"DejaVu Sans"},"encoding":{"x":{"datum":25,"type":"quantitative","axis":null},"y":{"datum":11.6,"type":"quantitative","axis":null},"text":{"value":"▼"}}},
  {"mark":{"type":"text","fontSize":3.5,"color":"#333333","align":"center","baseline":"middle","font":"DejaVu Sans"},"encoding":{"x":{"datum":50,"type":"quantitative","axis":null},"y":{"datum":11.6,"type":"quantitative","axis":null},"text":{"value":"▲"}}},
  {"mark":{"type":"rect","stroke":"#9999ff","strokeWidth":0.5},"encoding":{"x":{"datum":4,"type":"quantitative","axis":null},"x2":{"datum":35.5},"y":{"datum":16,"type":"quantitative","axis":null},"y2":{"datum":27.5},"fill":{"field":"dir","type":"nominal","legend":null}}},
  {"mark":{"type":"rect","stroke":"#9999ff","strokeWidth":0.5},"encoding":{"x":{"datum":36.5,"type":"quantitative","axis":null},"x2":{"datum":67},"y":{"datum":16,"type":"quantitative","axis":null},"y2":{"datum":27.5},"fill":{"field":"dir","type":"nominal","legend":null}}},
  {"mark":{"type":"text","fontSize":5,"color":"#ffffff","align":"left","baseline":"alphabetic"},"encoding":{"x":{"datum":5,"type":"quantitative","axis":null},"y":{"datum":24.5,"type":"quantitative","axis":null},"text":{"field":"bs"}}},
  {"mark":{"type":"text","fontSize":11,"fontWeight":"bold","color":"#ffffff","align":"left","baseline":"alphabetic"},"encoding":{"x":{"datum":14.5,"type":"quantitative","axis":null},"y":{"datum":25.5,"type":"quantitative","axis":null},"text":{"field":"bb"}}},
  {"mark":{"type":"text","fontSize":5,"color":"#ffffff","align":"left","baseline":"alphabetic"},"encoding":{"x":{"datum":28.5,"type":"quantitative","axis":null},"y":{"datum":20.5,"type":"quantitative","axis":null},"text":{"field":"bp"}}},
  {"mark":{"type":"text","fontSize":5,"color":"#ffffff","align":"left","baseline":"alphabetic"},"encoding":{"x":{"datum":39.5,"type":"quantitative","axis":null},"y":{"datum":24.5,"type":"quantitative","axis":null},"text":{"field":"as"}}},
  {"mark":{"type":"text","fontSize":11,"fontWeight":"bold","color":"#ffffff","align":"left","baseline":"alphabetic"},"encoding":{"x":{"datum":49,"type":"quantitative","axis":null},"y":{"datum":25.5,"type":"quantitative","axis":null},"text":{"field":"ab"}}},
  {"mark":{"type":"text","fontSize":5,"color":"#ffffff","align":"left","baseline":"alphabetic"},"encoding":{"x":{"datum":63,"type":"quantitative","axis":null},"y":{"datum":20.5,"type":"quantitative","axis":null},"text":{"field":"ap"}}},
  {"mark":{"type":"text","fontSize":3.9,"color":"#222244","align":"left","baseline":"middle"},"encoding":{"x":{"datum":4.5,"type":"quantitative","axis":null},"y":{"datum":39.5,"type":"quantitative","axis":null},"text":{"value":"SONIC R. SYSTEM (FXCAL HEADLINES):"}}},
  {"mark":{"type":"text","fontSize":3.6,"align":"left","baseline":"middle","limit":84,"ellipsis":""},"encoding":{"x":{"datum":4.5,"type":"quantitative","axis":null},"y":{"datum":43.7,"type":"quantitative","axis":null},"text":{"field":"h1"},"color":{"field":"c1","type":"nominal","scale":{"domain":["M","H","L","N"],"range":["#1c1c58","#b82020","#168a16","#9a9a9a"]},"legend":null}}},
  {"mark":{"type":"text","fontSize":3.6,"align":"left","baseline":"middle","limit":84,"ellipsis":""},"encoding":{"x":{"datum":4.5,"type":"quantitative","axis":null},"y":{"datum":47.9,"type":"quantitative","axis":null},"text":{"field":"h2"},"color":{"field":"c2","type":"nominal","legend":null}}},
  {"mark":{"type":"text","fontSize":3.6,"align":"left","baseline":"middle","limit":84,"ellipsis":""},"encoding":{"x":{"datum":4.5,"type":"quantitative","axis":null},"y":{"datum":52.1,"type":"quantitative","axis":null},"text":{"field":"h3"},"color":{"field":"c3","type":"nominal","legend":null}}},
  {"mark":{"type":"text","fontSize":3.6,"align":"left","baseline":"middle","limit":84,"ellipsis":""},"encoding":{"x":{"datum":4.5,"type":"quantitative","axis":null},"y":{"datum":56.3,"type":"quantitative","axis":null},"text":{"field":"h4"},"color":{"field":"c4","type":"nominal","legend":null}}}
 ]}},
{"transform":[{"filter":"datum.k=='g' || datum.k=='ln' || datum.k=='c'"}],
 "facet":{"row":{"field":"s","type":"nominal","sort":["EURUSD","GBPUSD","EURJPY","USDJPY"],"header":null},"column":{"field":"t","type":"nominal","sort":["D1","H1","M15","M5","M1"],"header":null}},
 "spacing":{"row":9,"column":0},"bounds":"flush",
 "resolve":{"axis":{"x":"independent"}},
 "spec":{"width":91,"height":62,"layer":[
  {"transform":[{"filter":"datum.k=='g' && datum.on"}],"mark":{"type":"rect","color":"#33e033"},
   "encoding":{"x":{"datum":-0.5,"type":"quantitative","scale":{"domain":[-0.5,29.5],"nice":false,"zero":false},"axis":{"values":[0.5,7,13.5,19.5],"labelExpr":"['1 Nov 04:00','1 Nov 12:00','1 Nov 20:00','4 Nov 04:00'][indexof([0.5,7,13.5,19.5],datum.value)]"}},"x2":{"datum":29.5},"y":{"datum":0,"type":"quantitative","scale":{"domain":[0,62],"nice":false,"zero":false},"axis":null},"y2":{"datum":9}}},
  {"transform":[{"filter":"datum.k=='ln'"}],"mark":"rule",
   "encoding":{"y":{"field":"v","type":"quantitative","axis":null},"stroke":{"field":"lt","type":"nominal","scale":{"domain":["m","g"],"range":["#000000","#9a9a9a"]},"legend":null},"strokeWidth":{"field":"lt","type":"ordinal","scale":{"domain":["m","g"],"range":[1.3,0.6]},"legend":null}}},
  {"transform":[{"filter":"datum.k=='ln' && datum.lab != ''"}],"mark":{"type":"text","align":"left","baseline":"bottom","dx":1,"dy":-0.3,"fontSize":4,"color":"#444444"},
   "encoding":{"x":{"datum":-0.5,"type":"quantitative","axis":null},"y":{"field":"v","type":"quantitative","axis":null},"text":{"field":"lab"}}},
  {"transform":[{"filter":"datum.k=='c'"}],"mark":{"type":"bar","width":1.4},
   "encoding":{"x":{"field":"i","type":"quantitative","axis":null},"y":{"field":"o","type":"quantitative","axis":null},"y2":{"field":"c"},"fill":{"field":"q","type":"nominal","scale":{"domain":["n","g","r","b","p"],"range":["#555555","#22c822","#e02424","#2424d8","#e87ab8"]},"legend":null}}},
  {"transform":[{"filter":"datum.k=='g'"}],"mark":{"type":"text","fontSize":8,"fontWeight":"bold","color":"#000000","align":"center","baseline":"middle"},
   "encoding":{"x":{"datum":14.5,"type":"quantitative","axis":null},"y":{"datum":4.3,"type":"quantitative","axis":null},"text":{"field":"t"}}}
 ]}},
{"transform":[{"filter":"datum.k=='I'"}],
 "facet":{"row":{"field":"s","type":"nominal","sort":["EURUSD","GBPUSD","EURJPY","USDJPY"],"header":null}},
 "spacing":{"row":9},"bounds":"flush",
 "resolve":{"axis":{"x":"independent"}},
 "spec":{"width":79,"height":62,"layer":[
  {"mark":{"type":"rect","fill":"#ffffff","stroke":"#777777","strokeWidth":0.8},
   "encoding":{"x":{"datum":2,"type":"quantitative","scale":{"domain":[0,79],"nice":false,"zero":false},"axis":{"values":[10],"labelExpr":"'4 Nov 05:58'"}},"x2":{"datum":62.5},"y":{"datum":3,"type":"quantitative","scale":{"domain":[0,62],"reverse":true,"nice":false,"zero":false},"axis":null},"y2":{"datum":64.5}}},
  {"mark":{"type":"text","fontSize":14,"align":"right","baseline":"alphabetic","color":"#000000"},"encoding":{"x":{"datum":61.5,"type":"quantitative","axis":null},"y":{"datum":17.3,"type":"quantitative","axis":null},"text":{"field":"nm"}}},
  {"mark":{"type":"text","fontSize":7,"fontWeight":"bold","align":"right","baseline":"alphabetic","color":"#000000"},"encoding":{"x":{"datum":61,"type":"quantitative","axis":null},"y":{"datum":26.7,"type":"quantitative","axis":null},"text":{"field":"ba"}}},
  {"mark":{"type":"text","fontSize":6,"align":"right","baseline":"alphabetic","color":"#000000"},"encoding":{"x":{"datum":61,"type":"quantitative","axis":null},"y":{"datum":33.2,"type":"quantitative","axis":null},"text":{"field":"sp"}}},
  {"mark":{"type":"text","fontSize":6,"align":"right","baseline":"alphabetic","color":"#000000"},"encoding":{"x":{"datum":61,"type":"quantitative","axis":null},"y":{"datum":40.6,"type":"quantitative","axis":null},"text":{"field":"rg"}}},
  {"mark":{"type":"text","fontSize":6,"align":"right","baseline":"alphabetic","color":"#000000"},"encoding":{"x":{"datum":35.5,"type":"quantitative","axis":null},"y":{"datum":48.2,"type":"quantitative","axis":null},"text":{"value":"DragonH1:"}}},
  {"mark":{"type":"text","fontSize":6,"align":"right","baseline":"alphabetic","color":"#000000"},"encoding":{"x":{"datum":35.5,"type":"quantitative","axis":null},"y":{"datum":55.9,"type":"quantitative","axis":null},"text":{"value":"DragonM15:"}}},
  {"mark":{"type":"text","fontSize":6,"align":"right","baseline":"alphabetic","color":"#000000"},"encoding":{"x":{"datum":35.5,"type":"quantitative","axis":null},"y":{"datum":63.6,"type":"quantitative","axis":null},"text":{"value":"DragonM1:"}}},
  {"mark":{"type":"rect"},"encoding":{"x":{"datum":36.3,"type":"quantitative","axis":null},"x2":{"datum":51.7},"y":{"datum":43,"type":"quantitative","axis":null},"y2":{"datum":49},"fill":{"field":"e1","type":"nominal","scale":{"domain":["n","z"],"range":["#2f8f2f","#3ee03e"]},"legend":null}}},
  {"mark":{"type":"rect"},"encoding":{"x":{"datum":36.3,"type":"quantitative","axis":null},"x2":{"datum":51.7},"y":{"datum":50.6,"type":"quantitative","axis":null},"y2":{"datum":56.6},"fill":{"field":"e2","type":"nominal","legend":null}}},
  {"mark":{"type":"rect"},"encoding":{"x":{"datum":36.3,"type":"quantitative","axis":null},"x2":{"datum":51.7},"y":{"datum":58.3,"type":"quantitative","axis":null},"y2":{"datum":64.3},"fill":{"field":"e3","type":"nominal","legend":null}}},
  {"mark":{"type":"text","fontSize":5.5,"align":"center","baseline":"alphabetic","color":"#d8f5d8"},"encoding":{"x":{"datum":44,"type":"quantitative","axis":null},"y":{"datum":48,"type":"quantitative","axis":null},"text":{"field":"d1"}}},
  {"mark":{"type":"text","fontSize":5.5,"align":"center","baseline":"alphabetic","color":"#d8f5d8"},"encoding":{"x":{"datum":44,"type":"quantitative","axis":null},"y":{"datum":55.6,"type":"quantitative","axis":null},"text":{"field":"d2"}}},
  {"mark":{"type":"text","fontSize":5.5,"align":"center","baseline":"alphabetic","color":"#d8f5d8"},"encoding":{"x":{"datum":44,"type":"quantitative","axis":null},"y":{"datum":63.3,"type":"quantitative","axis":null},"text":{"field":"d3"}}},
  {"mark":{"type":"text","fontSize":3.8,"align":"left","baseline":"middle","color":"#444444"},"encoding":{"x":{"datum":65,"type":"quantitative","axis":null},"y":{"datum":5,"type":"quantitative","axis":null},"text":{"value":"120"}}},
  {"mark":{"type":"text","fontSize":3.8,"align":"left","baseline":"middle","color":"#444444"},"encoding":{"x":{"datum":65,"type":"quantitative","axis":null},"y":{"datum":51,"type":"quantitative","axis":null},"text":{"value":"100"}}},
  {"mark":{"type":"text","fontSize":3.8,"align":"left","baseline":"middle","color":"#444444"},"encoding":{"x":{"datum":65,"type":"quantitative","axis":null},"y":{"datum":61,"type":"quantitative","axis":null},"text":{"value":"80"}}}
 ]}}
]}
